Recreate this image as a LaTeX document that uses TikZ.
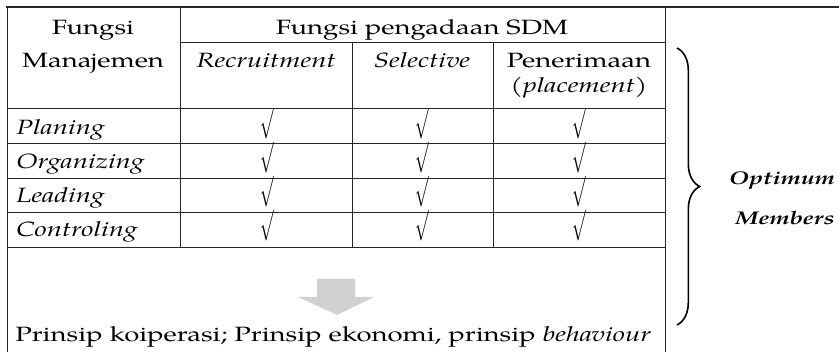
\documentclass[tikz,border=0pt]{standalone}
\usepackage{fontspec}
\setmainfont{texgyrepagella}[Extension=.otf, UprightFont=*-regular, BoldFont=*-bold, ItalicFont=*-italic, BoldItalicFont=*-bolditalic, FakeStretch=1.33]
\usetikzlibrary{decorations.pathreplacing}

\newcommand{\chk}{\scalebox{0.85}[1.6]{$\surd$}}

\begin{document}
\begin{tikzpicture}[x=0.75pt, y=-0.75pt, font=\fontsize{15.5}{18}\selectfont,
    cell/.style={anchor=base, inner sep=0pt},
    grid/.style={line width=0.6pt, black!85}]
        \useasboundingbox (0,0) rectangle (839,352);

        % Draw table lines
        \draw[line width=0.9pt, black!85] (6,7) -- (839,7);
        \draw[grid] (7,7) -- (7,352);
        \draw[grid] (665,7) -- (665,352);
        \draw[grid] (180,7) -- (180,247);
        \draw[grid] (180,42) -- (665,42);
        \draw[grid] (352,42) -- (352,247);
        \draw[grid] (493,42) -- (493,247);
        \foreach \y in {108,143,178,212,247} {
          \draw[grid] (7,\y) -- (665,\y);
        }

        % Header
        \node[cell] (fungsi) at (93,35) {Fungsi};
        \node[cell] (manajemen) at (93,68) {Manajemen};
        \node[cell] (pengadaan) at (422,35) {Fungsi pengadaan SDM};
        \node[cell] (recruit) at (266,68) {\textit{Recruitment}};
        \node[cell] (select) at (422,68) {\textit{Selective}};
        \node[inner sep=0pt, align=center, font=\fontsize{15.5}{18.75}\selectfont] (terima) at (579,76)
          {Penerimaan\\(\textit{placement})};

        % Rows with checks
        \foreach \y/\name/\txt in {135/plan/Planing, 169/org/Organizing, 203/lead/Leading, 237/ctrl/Controling} {
          \node[cell, anchor=base west] (\name) at (16,\y) {\textit{\txt}};
          \foreach \x/\c in {267/a, 422/b, 579/c} {
            \node[inner sep=0pt] (\name\c) at (\x,\y-11) {\chk};
          }
        }

        % Gray arrow
        \fill[black!18] (317,279) -- (355,279) -- (355,297) -- (374,297) -- (337,315)
          -- (298,297) -- (317,297) -- cycle;
        \node[cell, anchor=base west] (prinsip) at (15,342)
          {Prinsip koiperasi; Prinsip ekonomi, prinsip \textit{behaviour}};

        % Brace
        \draw[line width=1.2pt, decorate, decoration={brace, amplitude=17pt}] (677,48) -- (677,325);
        \node[cell, font=\fontsize{13.8}{16}\selectfont] (optimum) at (782,185) {\textbf{\textit{Optimum}}};
        \node[cell, font=\fontsize{13.8}{16}\selectfont] (members) at (785,225) {\textbf{\textit{Members}}};
\end{tikzpicture}
\end{document}
